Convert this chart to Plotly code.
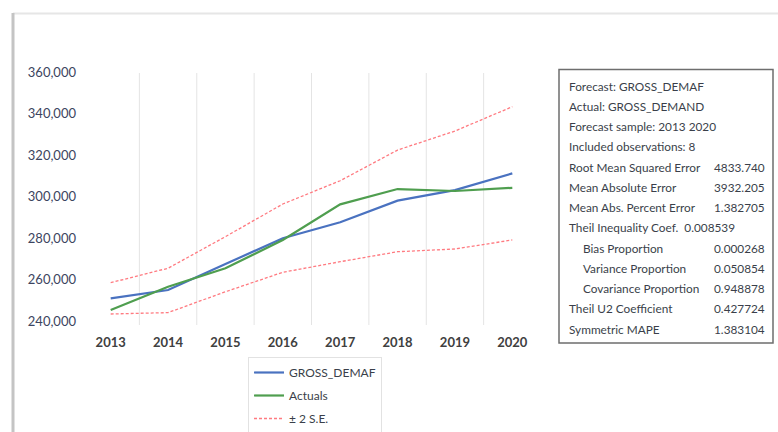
import plotly.graph_objects as go

years = [2013, 2014, 2015, 2016, 2017, 2018, 2019, 2020]
forecast = [251150, 255150, 267650, 280000, 287700, 298100, 303200, 311250]
actuals = [245500, 256700, 265600, 279200, 296350, 303700, 302750, 304300]
upper_se = [258650, 265600, 280800, 296500, 307700, 322450, 331600, 343300]
lower_se = [243600, 244250, 254300, 263650, 268750, 273550, 274850, 279200]
y_ticks = [240000, 260000, 280000, 300000, 320000, 340000, 360000]

stat_labels = ["Forecast: GROSS_DEMAF", "Actual: GROSS_DEMAND", "Forecast sample: 2013 2020",
               "Included observations: 8", "Root Mean Squared Error", "Mean Absolute Error",
               "Mean Abs. Percent Error", "Theil Inequality Coef.  0.008539", "Bias Proportion",
               "Variance Proportion", "Covariance Proportion", "Theil U2 Coefficient", "Symmetric MAPE"]
stat_values = ["", "", "", "", "4833.740", "3932.205", "1.382705", "", "0.000268",
               "0.050854", "0.948878", "0.427724", "1.383104"]
stat_indent = [0, 0, 0, 0, 0, 0, 0, 0, 1, 1, 1, 0, 0]

W, H = 778, 432
ML, MR, MT, MB = 82, 237, 72, 107
PW, PH = W - ML - MR, H - MT - MB

def xp(px):
    return (px - ML) / PW

def yp(py):
    return (H - MB - py) / PH

FONT = "Lato"
TXT = "#3a3f4a"

fig = go.Figure()
fig.add_trace(go.Scatter(x=years, y=forecast, mode="lines", name="GROSS_DEMAF", legendgroup="f",
                         line=dict(color="#4a72c0", width=2.2)))
fig.add_trace(go.Scatter(x=years, y=actuals, mode="lines", name="Actuals", legendgroup="a",
                         line=dict(color="#4f9e4f", width=2.2)))
fig.add_trace(go.Scatter(x=years, y=upper_se, mode="lines", name="± 2 S.E.", legendgroup="se",
                         line=dict(color="#ff7a80", width=1.3, dash="3px,2px")))
fig.add_trace(go.Scatter(x=years, y=lower_se, mode="lines", name="± 2 S.E.", legendgroup="se",
                         showlegend=False,
                         line=dict(color="#ff7a80", width=1.3, dash="3px,2px")))

shapes = []
# vertical gridlines between categories
for i in range(len(years) - 1):
    b = (years[i] + years[i + 1]) / 2
    shapes.append(dict(type="line", xref="x", yref="paper", x0=b, x1=b, y0=0, y1=yp(73),
                       line=dict(color="#e4e4e4", width=1), layer="below"))
# outer frame (image border)
shapes.append(dict(type="line", xref="paper", yref="paper", x0=xp(13), x1=xp(778), y0=yp(13.5), y1=yp(13.5),
                   line=dict(color="#e6e6e6", width=2)))
shapes.append(dict(type="line", xref="paper", yref="paper", x0=xp(13), x1=xp(13), y0=yp(13), y1=yp(432),
                   line=dict(color="#c4c4c4", width=3)))
# stats box
shapes.append(dict(type="rect", xref="paper", yref="paper", x0=xp(559), x1=xp(773), y0=yp(343), y1=yp(69.5),
                   line=dict(color="#6e6e6e", width=1.5), fillcolor="white"))

annotations = []
for i, (lab, val, ind) in enumerate(zip(stat_labels, stat_values, stat_indent)):
    py = 86 + 20.25 * i
    annotations.append(dict(xref="paper", yref="paper", x=xp(567 + 14 * ind), y=yp(py), text=lab,
                            showarrow=False, xanchor="left", yanchor="middle",
                            font=dict(family=FONT, size=11.8, color=TXT)))
    if val:
        annotations.append(dict(xref="paper", yref="paper", x=xp(767), y=yp(py), text=val,
                                showarrow=False, xanchor="right", yanchor="middle",
                                font=dict(family=FONT, size=11.8, color=TXT)))

fig.update_layout(
    width=W, height=H, autosize=False,
    margin=dict(l=ML, r=MR, t=MT, b=MB, pad=0, autoexpand=False),
    paper_bgcolor="white", plot_bgcolor="white",
    font=dict(family=FONT, color=TXT),
    showlegend=True,
    legend=dict(x=xp(248), y=yp(357), xanchor="left", yanchor="top",
                bordercolor="#e2e2e2", borderwidth=1, bgcolor="white",
                font=dict(family=FONT, size=12, color=TXT), tracegroupgap=4,
                itemwidth=30),
    xaxis=dict(range=[years[0] - 0.5, years[-1] + 0.5], tickvals=years,
               ticktext=[f"<b>{y}</b>" for y in years], showgrid=False, zeroline=False,
               showline=False, ticks="", ticklabelstandoff=8, automargin=False,
               tickfont=dict(family=FONT, size=13, color="#404040")),
    yaxis=dict(range=[238300, 360000], tickvals=y_ticks, tickformat=",d", showgrid=False,
               zeroline=False, showline=False, ticks="", ticklabelstandoff=5, automargin=False,
               tickfont=dict(family=FONT, size=13, color="#3c4560")),
    shapes=shapes, annotations=annotations,
)

fig.write_html("out.html")
